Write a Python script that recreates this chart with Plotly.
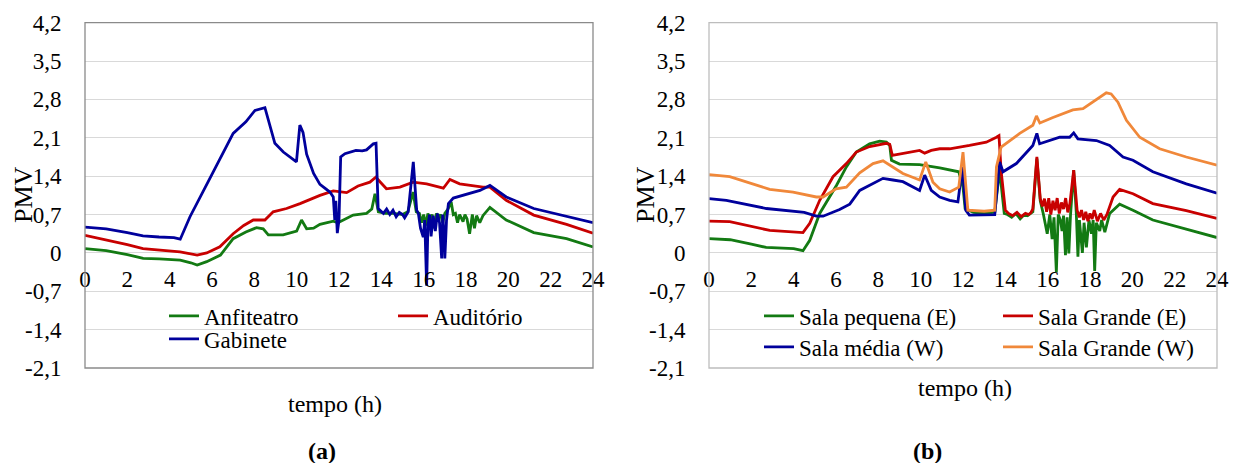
import plotly.graph_objects as go

# ---- (a) Anfiteatro / Auditório / Gabinete ----
t_anfiteatro = [0, 1, 2, 2.75, 3.5, 4.5, 5.0, 5.3, 5.75, 6.4, 7.0, 7.6, 8.1, 8.42, 8.66, 9.36, 10.0,
                10.23, 10.47, 10.8, 11.1, 11.73, 11.95, 12.2, 12.67, 13.3, 13.55, 13.7, 13.86, 14.2,
                14.6, 15.0, 15.25, 15.5, 15.65, 15.8, 15.9, 16.0, 16.1, 16.2, 16.3, 16.4, 16.5, 16.6,
                16.7, 16.8, 16.9, 17.0, 17.15, 17.3, 17.4, 17.5, 17.6, 17.7, 17.86, 17.95, 18.05,
                18.17, 18.3, 18.4, 18.5, 18.65, 18.8, 19.13, 19.9, 21.2, 22.75, 24]
v_anfiteatro = [0.08, 0.04, -0.03, -0.10, -0.11, -0.13, -0.18, -0.22, -0.16, -0.04, 0.26, 0.38, 0.46,
                0.44, 0.33, 0.33, 0.40, 0.60, 0.44, 0.45, 0.52, 0.58, 0.55, 0.60, 0.69, 0.72, 0.80,
                1.08, 0.75, 0.72, 0.72, 0.70, 0.75, 1.11, 0.75, 0.72, 0.55, 0.70, 0.50, 0.72, 0.60,
                0.70, 0.45, 0.72, 0.65, 0.70, 0.55, 0.72, 0.80, 0.93, 0.70, 0.72, 0.55, 0.70, 0.57,
                0.70, 0.62, 0.35, 0.70, 0.45, 0.68, 0.55, 0.68, 0.83, 0.60, 0.37, 0.26, 0.11]

t_auditorio = [0, 1, 2, 2.74, 3.5, 4.49, 5.3, 5.75, 6.37, 7.0, 7.5, 7.95, 8.5, 8.89, 9.52, 10.16, 11.1,
               11.73, 12.36, 12.9, 13.46, 13.74, 14.24, 14.88, 15.5, 16.14, 16.93, 17.24, 17.7, 18.8,
               19.13, 19.9, 21.2, 22.75, 24]
v_auditorio = [0.32, 0.24, 0.15, 0.08, 0.05, 0.02, -0.04, 0.00, 0.11, 0.35, 0.50, 0.60, 0.60, 0.75,
               0.81, 0.90, 1.05, 1.13, 1.10, 1.22, 1.29, 1.38, 1.17, 1.20, 1.29, 1.26, 1.18, 1.34,
               1.26, 1.20, 1.20, 0.96, 0.69, 0.52, 0.36]

t_gabinete = [0, 1, 2, 2.74, 3.5, 4.2, 4.5, 4.96, 5.9, 7.0, 7.6, 8.03, 8.5, 8.97, 9.37, 9.99, 10.15,
              10.3, 10.47, 10.8, 11.1, 11.57, 11.73, 11.8, 11.85, 11.92, 12.0, 12.08, 12.28, 12.8,
              13.1, 13.3, 13.62, 13.75, 13.85, 13.95, 14.1, 14.25, 14.4, 14.55, 14.7, 14.85, 15.0,
              15.1, 15.2, 15.27, 15.51, 15.67, 15.75, 15.85, 15.98, 16.05, 16.14, 16.2, 16.28, 16.35,
              16.45, 16.55, 16.65, 16.75, 16.85, 16.9, 16.97, 17.0, 17.08, 17.17, 17.4, 18.0, 18.66,
              19.13, 19.9, 21.2, 22.75, 24]
v_gabinete = [0.47, 0.44, 0.37, 0.31, 0.29, 0.28, 0.25, 0.66, 1.36, 2.18, 2.39, 2.60, 2.65, 2.00,
              1.84, 1.66, 2.33, 2.20, 1.80, 1.45, 1.25, 1.11, 1.02, 0.60, 0.95, 0.36, 0.60, 1.75,
              1.81, 1.87, 1.86, 1.88, 1.99, 2.00, 0.81, 0.78, 0.72, 0.80, 0.70, 0.78, 0.66, 0.74,
              0.70, 0.64, 0.72, 0.75, 1.66, 0.78, 0.72, 0.45, 0.29, 0.60, -0.60, 0.50, 0.70, 0.30,
              0.68, 0.40, 0.72, 0.55, -0.10, 0.70, 0.30, -0.10, 0.60, 0.90, 1.00, 1.07, 1.14, 1.23,
              1.02, 0.81, 0.66, 0.55]

# ---- (b) salas ----
t_sala_pequena_e = [0, 1, 2, 2.7, 4.0, 4.44, 4.76, 5.23, 6.02, 6.49, 6.96, 7.59, 8.06, 8.38, 8.54, 8.62,
                    9.0, 9.95, 10.9, 11.37, 11.8, 12.0, 12.1, 12.5, 13.0, 13.5, 13.65, 13.73, 13.95,
                    14.1, 14.3, 14.5, 14.7, 14.9, 15.05, 15.2, 15.3, 15.49, 15.65, 15.8, 15.98, 16.1,
                    16.21, 16.3, 16.41, 16.5, 16.6, 16.68, 16.75, 16.84, 16.92, 17.0, 17.08, 17.23,
                    17.35, 17.43, 17.5, 17.64, 17.72, 17.83, 17.95, 18.07, 18.15, 18.22, 18.3, 18.46,
                    18.55, 18.7, 18.8, 18.93, 19.4, 20.03, 20.97, 22.55, 24]
v_sala_pequena_e = [0.26, 0.24, 0.16, 0.10, 0.08, 0.04, 0.23, 0.72, 1.23, 1.57, 1.84, 1.99, 2.04, 2.02,
                    1.96, 1.69, 1.62, 1.61, 1.55, 1.52, 1.48, 1.20, 0.81, 0.74, 0.72, 0.74, 1.20,
                    1.51, 0.72, 0.70, 0.65, 0.72, 0.62, 0.70, 0.68, 0.72, 0.75, 1.72, 0.95, 0.70,
                    0.35, 0.70, 0.25, 0.65, -0.35, 0.70, 0.60, 0.40, 0.68, -0.04, 0.65, -0.01, 0.70,
                    1.51, 0.75, -0.07, 0.60, 0.00, 0.55, 0.10, 0.60, 0.35, 0.60, -0.33, 0.55, 0.40,
                    0.60, 0.38, 0.55, 0.72, 0.89, 0.78, 0.60, 0.43, 0.28]

t_sala_grande_e = [0, 0.98, 2.87, 4.44, 4.76, 5.23, 5.86, 6.49, 6.96, 7.59, 8.38, 8.54, 8.66, 9.32, 9.95,
                   10.19, 10.5, 10.9, 11.37, 12.31, 13.1, 13.58, 13.7, 13.8, 14.0, 14.15, 14.35, 14.55,
                   14.75, 14.95, 15.1, 15.2, 15.3, 15.49, 15.65, 15.75, 15.85, 15.95, 16.05, 16.15,
                   16.25, 16.35, 16.45, 16.55, 16.65, 16.75, 16.85, 16.95, 17.05, 17.23, 17.39, 17.5,
                   17.6, 17.7, 17.8, 17.9, 18.0, 18.1, 18.2, 18.35, 18.5, 18.65, 18.8, 19.09, 19.4,
                   20.03, 20.97, 22.55, 24]
v_sala_grande_e = [0.58, 0.57, 0.41, 0.37, 0.54, 0.96, 1.39, 1.63, 1.84, 1.94, 2.00, 1.98, 1.78, 1.82,
                   1.87, 1.82, 1.87, 1.90, 1.90, 1.96, 2.02, 2.11, 2.14, 1.50, 0.78, 0.72, 0.68, 0.74,
                   0.66, 0.72, 0.70, 0.73, 0.80, 1.75, 0.99, 0.85, 0.99, 0.75, 1.00, 0.70, 0.95, 0.78,
                   1.00, 0.72, 0.92, 0.80, 1.00, 0.74, 0.90, 1.51, 0.78, 0.65, 0.78, 0.60, 0.75, 0.58,
                   0.72, 0.62, 0.78, 0.58, 0.72, 0.60, 0.70, 1.02, 1.16, 1.08, 0.90, 0.77, 0.63]

t_sala_media_w = [0, 0.82, 2.71, 3.97, 4.5, 5.07, 5.39, 6.17, 6.65, 7.12, 7.75, 8.22, 8.69, 9.16, 9.95,
                  10.19, 10.5, 10.9, 11.37, 11.76, 11.97, 12.13, 12.3, 13.0, 13.5, 13.73, 13.89, 14.52,
                  15.3, 15.49, 15.62, 16.57, 17.04, 17.23, 17.43, 18.3, 18.93, 19.56, 20.03, 20.97,
                  22.55, 24]
v_sala_media_w = [0.99, 0.96, 0.81, 0.77, 0.74, 0.67, 0.67, 0.79, 0.89, 1.14, 1.26, 1.36, 1.33, 1.30,
                  1.14, 1.42, 1.14, 1.02, 0.96, 0.93, 1.57, 0.78, 0.69, 0.69, 0.70, 1.66, 1.48, 1.63,
                  1.96, 2.18, 1.99, 2.11, 2.11, 2.19, 2.08, 2.05, 1.96, 1.75, 1.69, 1.48, 1.26, 1.09]

t_sala_grande_w = [0, 0.98, 2.87, 3.97, 5.07, 5.39, 6.0, 6.49, 7.12, 7.75, 8.22, 8.69, 9.16, 9.95,
                   10.24, 10.58, 10.9, 11.37, 11.8, 12.0, 12.23, 13.0, 13.5, 13.58, 13.8, 14.68, 15.3,
                   15.47, 15.63, 16.25, 17.19, 17.67, 18.14, 18.77, 19.0, 19.32, 19.72, 20.35, 21.29,
                   22.55, 24]
v_sala_grande_w = [1.43, 1.39, 1.16, 1.11, 1.02, 1.02, 1.17, 1.20, 1.46, 1.63, 1.68, 1.57, 1.45, 1.33,
                   1.66, 1.29, 1.17, 1.11, 1.20, 1.84, 0.78, 0.76, 0.78, 1.57, 1.93, 2.18, 2.33, 2.50,
                   2.37, 2.47, 2.61, 2.63, 2.75, 2.92, 2.90, 2.75, 2.42, 2.11, 1.90, 1.75, 1.60]

y_ticks = [-2.1, -1.4, -0.7, 0, 0.7, 1.4, 2.1, 2.8, 3.5, 4.2]
y_tick_labels = ["-2,1", "-1,4", "-0,7", "0", "0,7", "1,4", "2,1", "2,8", "3,5", "4,2"]
x_ticks = list(range(0, 25, 2))

GREEN = "#137a13"
RED = "#c80000"
BLUE = "#00009c"
ORANGE = "#f0883a"
SERIF = "Liberation Serif"

W, H = 1243, 463
def px_x(p):
    return p / W
def px_y(p):
    return (H - p) / H

dom_a = [px_x(85), px_x(593)]
dom_b = [px_x(709), px_x(1217)]
dom_y = [px_y(368), px_y(22.7)]
zero_pos = dom_y[0] + (dom_y[1] - dom_y[0]) * (2.1 / 6.3)

fig = go.Figure()
lw = 2.8
series = [
    ("Anfiteatro", t_anfiteatro, v_anfiteatro, GREEN, "x", "y", "legend"),
    ("Auditório", t_auditorio, v_auditorio, RED, "x", "y", "legend"),
    ("Gabinete", t_gabinete, v_gabinete, BLUE, "x", "y", "legend2"),
    ("Sala pequena (E)", t_sala_pequena_e, v_sala_pequena_e, GREEN, "x2", "y2", "legend3"),
    ("Sala Grande (E)", t_sala_grande_e, v_sala_grande_e, RED, "x2", "y2", "legend3"),
    ("Sala média (W)", t_sala_media_w, v_sala_media_w, BLUE, "x2", "y2", "legend4"),
    ("Sala Grande (W)", t_sala_grande_w, v_sala_grande_w, ORANGE, "x2", "y2", "legend4"),
]
for name, t, v, c, xa, ya, lg in series:
    fig.add_trace(go.Scatter(x=t, y=v, mode="lines", name=name, xaxis=xa, yaxis=ya,
                             line=dict(color=c, width=lw), legend=lg))

tick_font = dict(family=SERIF, size=23, color="black")
common_x = dict(range=[0, 24], tickvals=x_ticks, showgrid=False, zeroline=False, showline=False,
                ticks="outside", ticklen=5, tickcolor="rgba(0,0,0,0)", tickfont=tick_font,
                anchor="free", position=zero_pos, fixedrange=True, automargin=False)
common_y = dict(range=[-2.1, 4.2], tickvals=y_ticks, ticktext=y_tick_labels, showgrid=True,
                gridcolor="#d9d9d9", gridwidth=1.3, zeroline=False, showline=False,
                ticks="outside", ticklen=18, tickcolor="rgba(0,0,0,0)", tickfont=tick_font,
                domain=dom_y, fixedrange=True, automargin=False)

leg_common = dict(orientation="h", bgcolor="rgba(0,0,0,0)", yanchor="middle", xanchor="left",
                  entrywidthmode="pixels", tracegroupgap=0, itemwidth=30,
                  font=dict(family=SERIF, size=23, color="black"))

fig.update_layout(
    template="none",
    font=dict(family=SERIF, size=22, color="black"),
    width=W, height=H, margin=dict(l=0, r=0, t=0, b=0, autoexpand=False),
    paper_bgcolor="white", plot_bgcolor="white", showlegend=True,
    xaxis=dict(domain=dom_a, **common_x),
    yaxis=dict(anchor="x", **common_y),
    xaxis2=dict(domain=dom_b, **common_x),
    yaxis2=dict(anchor="x2", **common_y),
    legend=dict(x=px_x(164), y=px_y(316), entrywidth=184, **leg_common),
    legend2=dict(x=px_x(164), y=px_y(339), entrywidth=184, **leg_common),
    legend3=dict(x=px_x(759), y=px_y(316), entrywidth=194, **leg_common),
    legend4=dict(x=px_x(759), y=px_y(347), entrywidth=194, **leg_common),
)

# plot-area frames
fig.add_shape(type="rect", xref="x domain", yref="y domain", x0=0, x1=1, y0=0, y1=1,
              line=dict(color="#8a8a8a", width=1.3), layer="above")
fig.add_shape(type="rect", xref="x2 domain", yref="y2 domain", x0=0, x1=1, y0=0, y1=1,
              line=dict(color="#bdbdbd", width=1.3), layer="above")

def label(text, xc, yc, size, angle=0):
    fig.add_annotation(text=text, x=px_x(xc), y=px_y(yc), xref="paper", yref="paper",
                       xanchor="center", yanchor="middle", showarrow=False, textangle=angle,
                       font=dict(family=SERIF, size=size, color="black"))

label("PMV", 23, 195, 26, -90)
label("PMV", 645, 195, 26, -90)
label("tempo (h)", 335, 404, 24)
label("tempo (h)", 965, 388, 24)
label("<b>(a)</b>", 322, 451, 24)
label("<b>(b)</b>", 927, 451, 24)

fig.write_html("out.html")
